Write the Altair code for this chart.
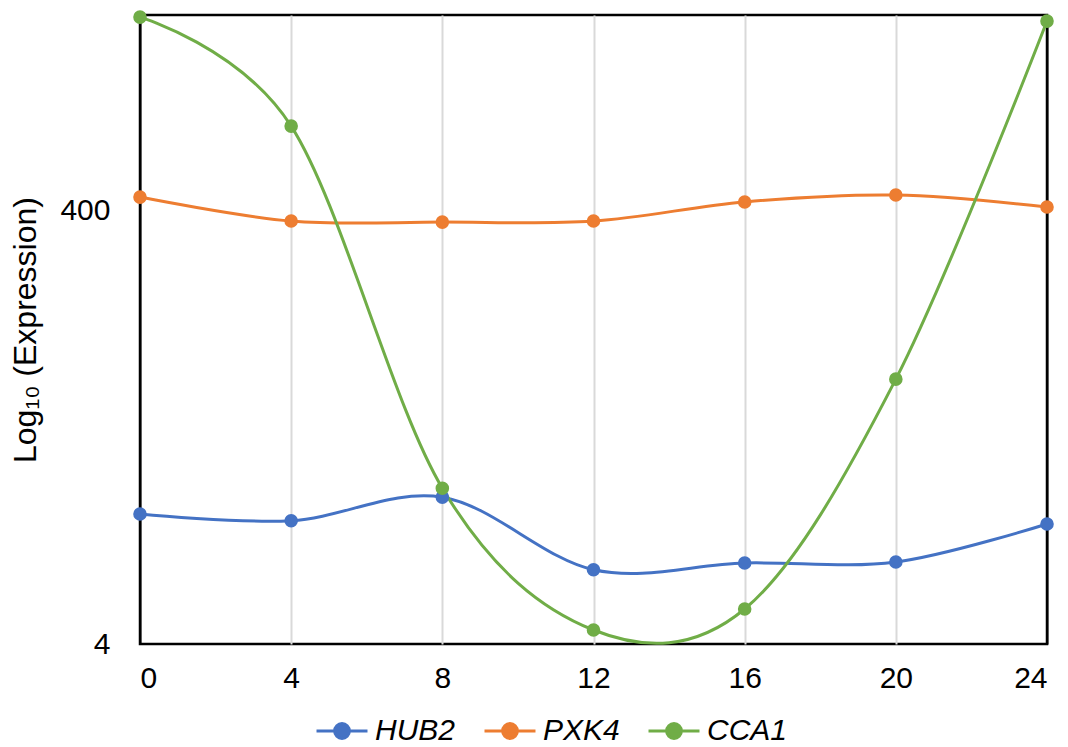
import altair as alt
import pandas as pd

hours = [0, 4, 8, 12, 16, 20, 24]
genes = ["HUB2", "PXK4", "CCA1"]
hub2 = [15.9, 14.8, 19.0, 8.8, 9.45, 9.55, 14.3]
pxk4 = [459, 356, 352, 356, 436, 469, 413]
cca1 = [3100, 975, 20.9, 4.64, 5.8, 66.5, 2972]
colors = ["#4472C4", "#ED7D31", "#70AD47"]
y_ticks = [4, 400]

rows = []
for g, vals in zip(genes, [hub2, pxk4, cca1]):
    for h, v in zip(hours, vals):
        rows.append({"hour": h, "gene": g, "value": v})
df = pd.DataFrame(rows)

font = "Liberation Sans"

x = alt.X("hour:Q", scale=alt.Scale(domain=[0, 24], nice=False, zero=False),
          axis=alt.Axis(values=hours, title=None, grid=True,
                        gridColor={"condition": {"test": "datum.value === 0 || datum.value === 24",
                                                 "value": "black"},
                                   "value": "#D9D9D9"},
                        gridWidth=2, ticks=False, domain=False, labelFontSize=30,
                        labelFont=font, labelColor="black", labelPadding=19))
y = alt.Y("value:Q", scale=alt.Scale(type="log", domain=[4, 3170], nice=False),
          axis=alt.Axis(values=y_ticks, title="Log₁₀ (Expression)", grid=False,
                        ticks=False, domain=False, labelFontSize=30, labelFont=font,
                        labelColor="black", labelPadding=30, titleFontSize=32,
                        titleFont=font, titleColor="black", titleFontWeight="normal",
                        titlePadding=17))
color = alt.Color("gene:N", scale=alt.Scale(domain=genes, range=colors),
                  legend=alt.Legend(title=None, orient="none", direction="horizontal",
                                    legendX=175, legendY=689, padding=0,
                                    symbolType="M-1,0L1,0M0.29,0A0.29,0.29,0,1,1,-0.29,0A0.29,0.29,0,1,1,0.29,0Z",
                                    symbolSize=2600, symbolStrokeWidth=3,
                                    labelFontSize=30, labelFont=font,
                                    labelFontStyle="italic", labelColor="black",
                                    columnPadding=22, labelOffset=6))

base = alt.Chart(df)
lines = base.mark_line(strokeWidth=3, interpolate="cardinal").encode(
    x=x, y=y, color=color, order="hour:Q")
points = base.mark_circle(size=185, opacity=1).encode(
    x=x, y=y, color=color,
    fill=alt.Fill("gene:N", scale=alt.Scale(domain=genes, range=colors), legend=None))

chart = alt.layer(lines, points).properties(
    width=907, height=629,
    padding={"left": 140, "top": 15, "right": 21, "bottom": 103},
    autosize="none",
).configure(background="white").configure_view(stroke="black", strokeWidth=2.5)

chart.save("out.html", embed_options={"renderer": "svg", "actions": False})
